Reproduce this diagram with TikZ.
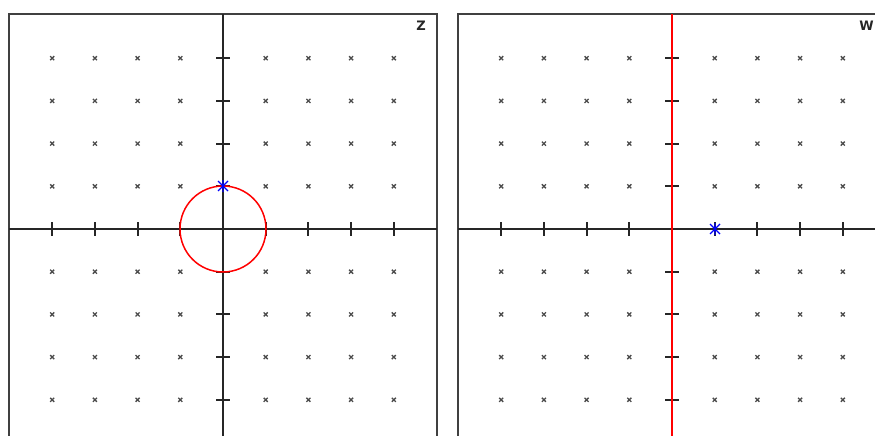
\documentclass[tikz,border=0pt]{standalone}
\usepackage{fontspec}
\setmainfont{DejaVu Sans}
\begin{document}
\begin{tikzpicture}[x=1pt,y=-1pt,
  frame/.style={draw=black!75,line width=2.2pt},
  axis/.style={draw=black!85,line width=2pt},
  tickmark/.style={draw=black!85,line width=2pt},
  dotmark/.style={draw=black!70,line width=1.3pt},
  pole/.style={draw=blue,line width=1.1pt},
  curve/.style={draw=red,line width=1.5pt},
  lab/.style={font=\fontsize{13}{13}\selectfont\bfseries,text=black!85,inner sep=0pt}]
\useasboundingbox (0,0) rectangle (875,436);
\clip (0,0) rectangle (875,436);
\def\sp{42.7}
% ---------- left panel ----------
\draw[frame] (9,440) -- (9,14) -- (437,14) -- (437,440);
\draw[axis] (9,229) -- (437,229);
\draw[axis] (223,14) -- (223,440);
\foreach \i in {-4,-3,-2,-1,1,2,3,4}{
  \draw[tickmark] ({223+\i*\sp},222) -- ({223+\i*\sp},236);
  \draw[tickmark] (216,{229+\i*\sp}) -- (230,{229+\i*\sp});
  \foreach \j in {-4,-3,-2,-1,1,2,3,4}{
    \draw[dotmark] ({223+\i*\sp-2},{229+\j*\sp-2}) -- ++(4,4) ({223+\i*\sp-2},{229+\j*\sp+2}) -- ++(4,-4);
  }
}
\draw[curve] (223,229) circle (43);
\coordinate (zp) at (223,186);
\draw[pole] ([shift={(-5,-5)}]zp) -- ([shift={(5,5)}]zp) ([shift={(-5,5)}]zp) -- ([shift={(5,-5)}]zp) ([shift={(0,-6)}]zp) -- ([shift={(0,6)}]zp);
\node[lab] (zlab) at (421,26) {Z};
% ---------- right panel ----------
\draw[frame] (458,440) -- (458,14) -- (880,14);
\draw[axis] (458,229) -- (880,229);
\foreach \i in {-4,-3,-2,-1,1,2,3,4}{
  \draw[tickmark] ({672+\i*\sp},222) -- ({672+\i*\sp},236);
  \draw[tickmark] (665,{229+\i*\sp}) -- (679,{229+\i*\sp});
  \foreach \j in {-4,-3,-2,-1,1,2,3,4}{
    \draw[dotmark] ({672+\i*\sp-2},{229+\j*\sp-2}) -- ++(4,4) ({672+\i*\sp-2},{229+\j*\sp+2}) -- ++(4,-4);
  }
}
\draw[curve] (672,14) -- (672,440);
\coordinate (wp) at (715,229);
\draw[pole] ([shift={(-5,-5)}]wp) -- ([shift={(5,5)}]wp) ([shift={(-5,5)}]wp) -- ([shift={(5,-5)}]wp) ([shift={(0,-6)}]wp) -- ([shift={(0,6)}]wp);
\node[lab,anchor=east] (wlab) at (874,26) {W};
\end{tikzpicture}
\end{document}
